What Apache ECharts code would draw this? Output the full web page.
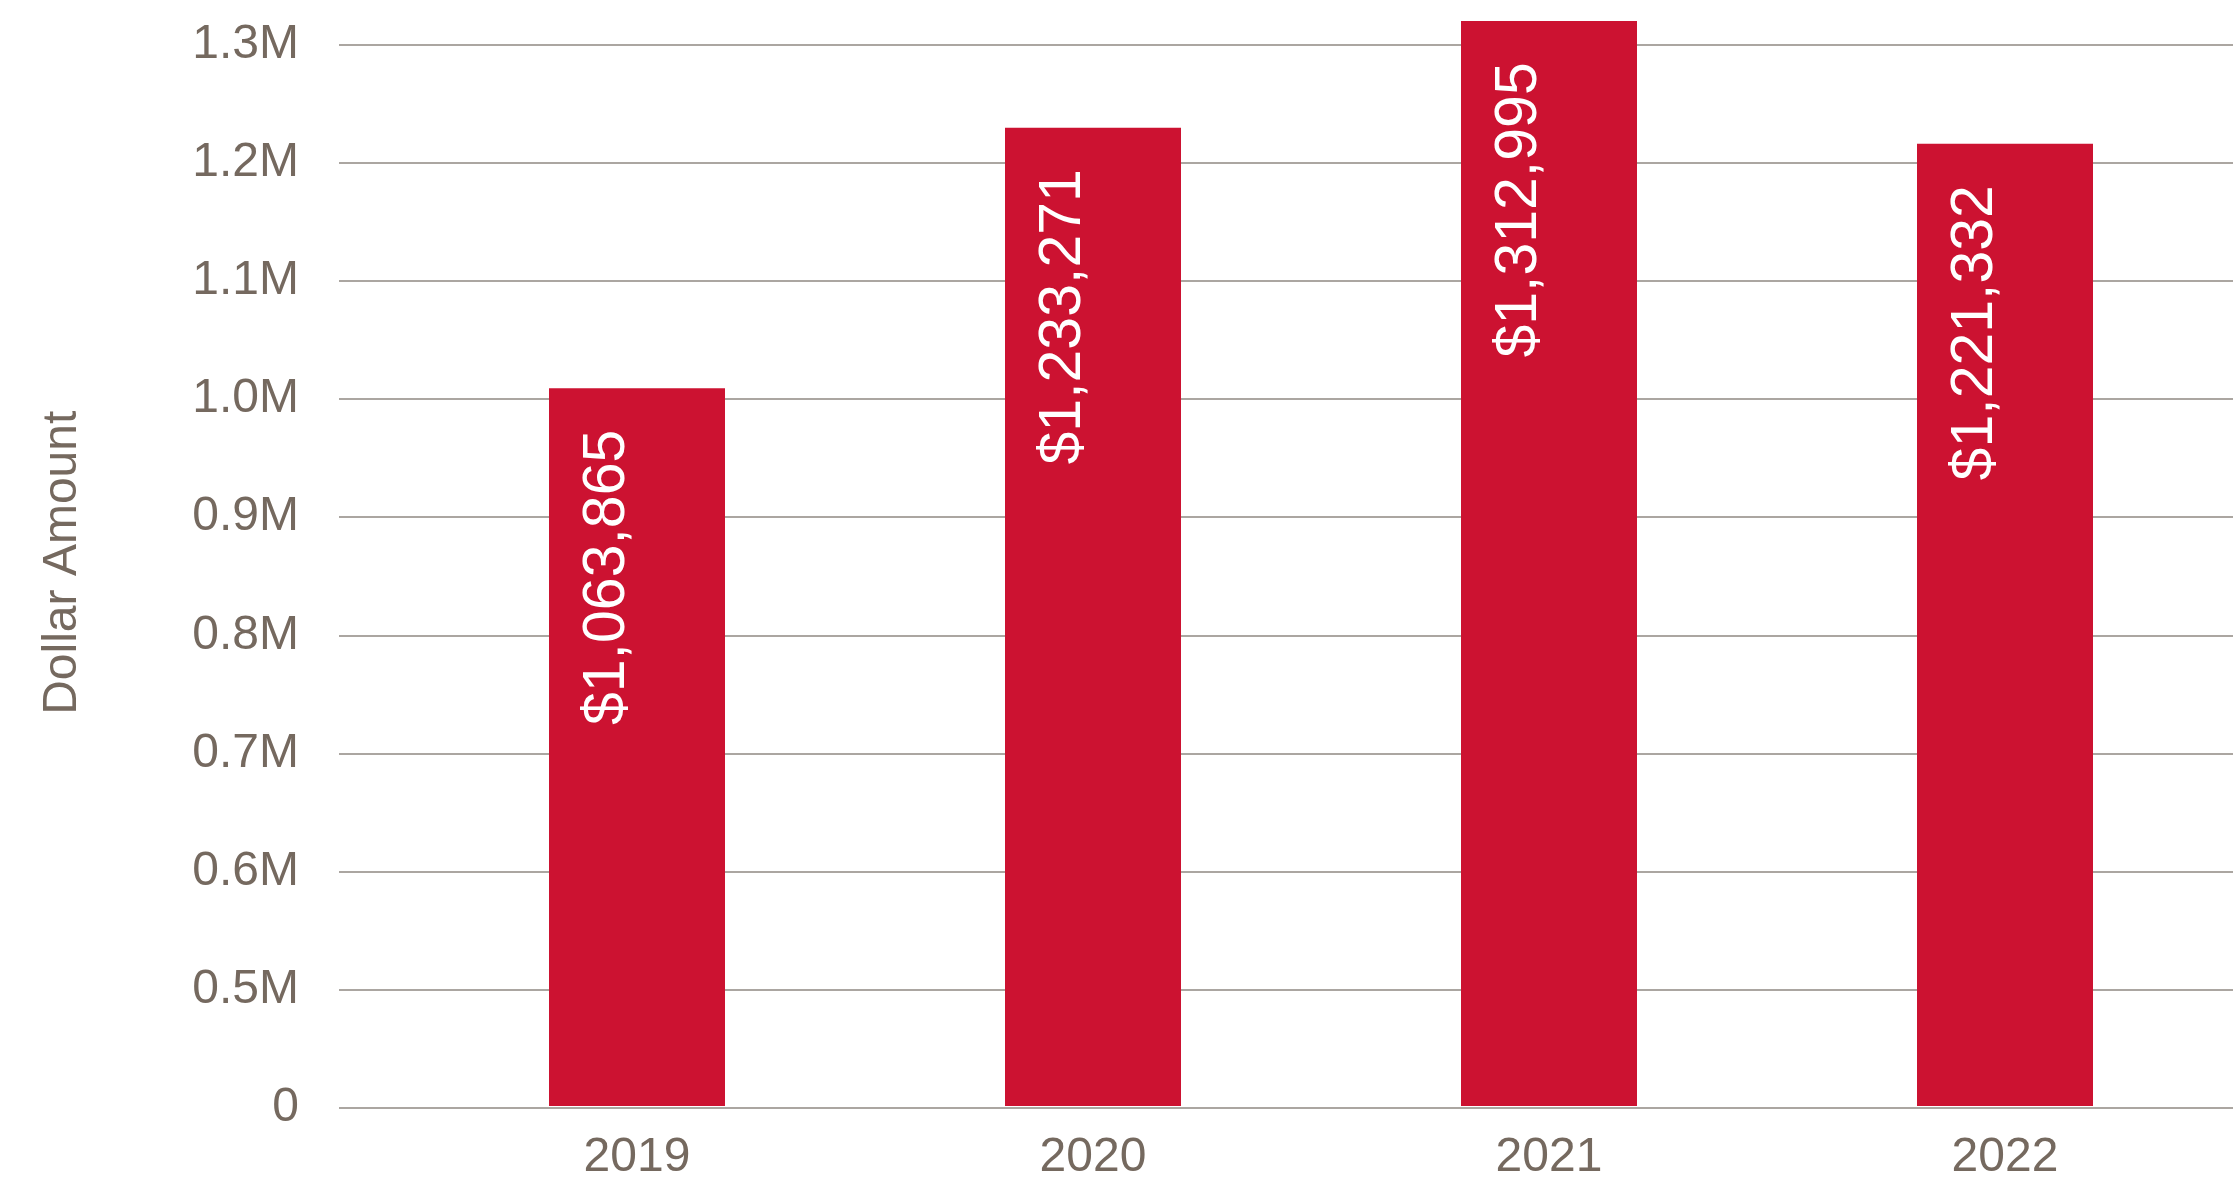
<!DOCTYPE html>
<html>
<head>
<meta charset="utf-8">
<script src="https://cdn.jsdelivr.net/npm/echarts@6/dist/echarts.min.js"></script>
<style>
html,body{margin:0;padding:0;background:#fff;}
#chart{width:2233px;height:1182px;}
</style>
</head>
<body>
<div id="chart"></div>
<script>
const categories = ['2019', '2020', '2021', '2022'];
const barValues = [1008400, 1229300, 1319900, 1215800];
const barLabels = ['$1,063,865', '$1,233,271', '$1,312,995', '$1,221,332'];
const axisMin = 400000;
const axisMax = 1300000;
const axisStep = 100000;
const bottomTickLabel = '0';
const yAxisTitle = 'Dollar Amount';

const textColor = '#75695f';
const gridColor = '#8f8882';
const barColor = '#cc1231';
const fontFamily = '"Liberation Sans", Arial, Helvetica, sans-serif';

// plot area: axisMax at 44.5px from top, axisMin at 74px from bottom
const plotTop = 44.5;
const plotBottom = 74;
const stepPx = (1182 - plotBottom - plotTop) / ((axisMax - axisMin) / axisStep);
// bar grid reaches the top edge; its hidden axis keeps the same scale
const barAxisMax = axisMin + (1182 - plotBottom) / stepPx * axisStep;

const chart = echarts.init(document.getElementById('chart'));
chart.setOption({
  animation: false,
  backgroundColor: '#ffffff',
  grid: [
    { left: 409, width: 1834, top: 0, bottom: plotBottom },
    { left: 339, right: 0, top: plotTop, bottom: plotBottom }
  ],
  xAxis: [
    {
      type: 'category', gridIndex: 0, data: categories,
      axisLine: { show: false }, axisTick: { show: false },
      axisLabel: { color: textColor, fontSize: 48, fontFamily: fontFamily, margin: 28 }
    },
    { type: 'value', gridIndex: 1, show: false, min: 0, max: 1 }
  ],
  yAxis: [
    { type: 'value', gridIndex: 0, min: axisMin, max: barAxisMax, show: false },
    {
      type: 'value', gridIndex: 1, min: axisMin, max: axisMax, interval: axisStep,
      axisLine: { show: false }, axisTick: { show: false },
      splitLine: { show: true, lineStyle: { color: gridColor, width: 1.5 } },
      axisLabel: {
        color: textColor, fontSize: 48, fontFamily: fontFamily, margin: 40,
        formatter: function (v) {
          if (v === axisMin) return bottomTickLabel;
          return (v / 1000000).toFixed(1) + 'M';
        }
      },
      name: yAxisTitle, nameLocation: 'middle', nameGap: 252,
      nameTextStyle: { color: textColor, fontSize: 48, fontFamily: fontFamily, padding: [0, 0, 0, 27] }
    }
  ],
  series: [
    {
      type: 'bar', xAxisIndex: 0, yAxisIndex: 0,
      data: barValues, barWidth: 176,
      itemStyle: { color: barColor },
      label: {
        show: true, position: 'insideTop', distance: 189, rotate: 90,
        align: 'center', verticalAlign: 'bottom',
        color: '#ffffff', fontSize: 59, fontFamily: fontFamily,
        formatter: function (p) { return barLabels[p.dataIndex]; }
      }
    }
  ]
});
</script>
</body>
</html>
